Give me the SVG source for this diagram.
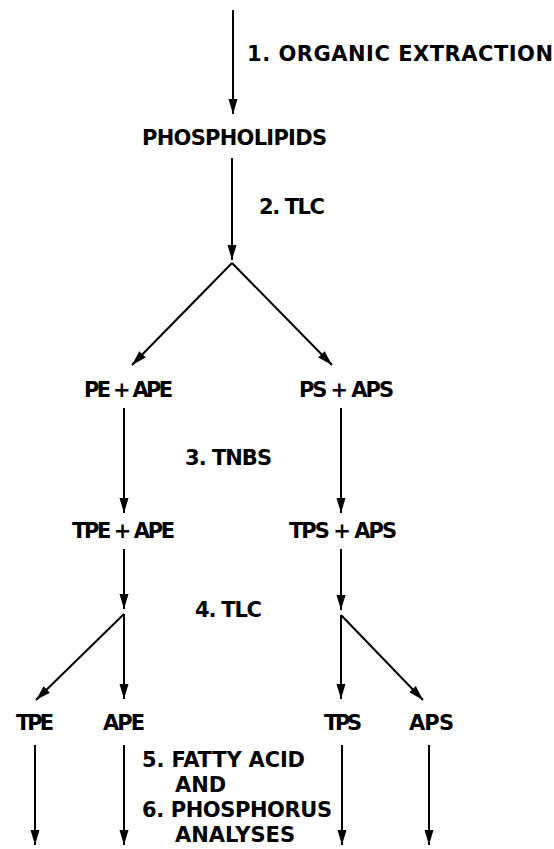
<svg xmlns="http://www.w3.org/2000/svg" width="554" height="849" viewBox="0 0 554 849">
<defs>
<style>
text{font-family:"DejaVu Sans","Liberation Sans",sans-serif;font-weight:bold;font-size:21px;fill:#000}
.c line,.c path{stroke:#000;stroke-width:2;fill:none}
</style>
<marker id="ah" markerUnits="userSpaceOnUse" markerWidth="16" markerHeight="10" refX="15" refY="5" orient="auto">
<path d="M0,0.5 L15,5 L0,9.5 z" fill="#000"/>
</marker>
</defs>
<rect width="554" height="849" fill="#fff"/>
<g id="connectors" class="c">
<line x1="233" y1="10" x2="233" y2="114" marker-end="url(#ah)"/>
<line x1="232" y1="158" x2="232" y2="260" marker-end="url(#ah)"/>
<line x1="232" y1="263" x2="132" y2="365" marker-end="url(#ah)"/>
<line x1="232" y1="263" x2="332" y2="365" marker-end="url(#ah)"/>
<line x1="124" y1="408" x2="124" y2="513" marker-end="url(#ah)"/>
<line x1="341" y1="408" x2="341" y2="513" marker-end="url(#ah)"/>
<line x1="124" y1="549" x2="124" y2="609" marker-end="url(#ah)"/>
<line x1="341" y1="549" x2="341" y2="610" marker-end="url(#ah)"/>
<line x1="124" y1="614" x2="36" y2="700" marker-end="url(#ah)"/>
<line x1="124" y1="614" x2="124" y2="699" marker-end="url(#ah)"/>
<line x1="341" y1="615" x2="341" y2="699" marker-end="url(#ah)"/>
<line x1="341" y1="615" x2="423" y2="700" marker-end="url(#ah)"/>
<line x1="35" y1="745" x2="35" y2="845" marker-end="url(#ah)"/>
<line x1="124" y1="745" x2="124" y2="845" marker-end="url(#ah)"/>
<line x1="342" y1="745" x2="342" y2="845" marker-end="url(#ah)"/>
<line x1="429" y1="745" x2="429" y2="845" marker-end="url(#ah)"/>
<g id="step-labels">
<text x="247" y="61" textLength="306">1. ORGANIC EXTRACTION</text>
<text x="259" y="214" textLength="66">2. TLC</text>
<text x="185" y="465" textLength="87">3. TNBS</text>
<text x="195" y="617" textLength="67">4. TLC</text>
<text x="142" y="767" textLength="163">5. FATTY ACID</text>
<text x="175" y="792">AND</text>
<text x="142" y="817" textLength="190">6. PHOSPHORUS</text>
<text x="175" y="842" textLength="120">ANALYSES</text>
</g>
</g>
<g id="phospholipids"><text x="142" y="145" textLength="185">PHOSPHOLIPIDS</text></g>
<g id="pe-ape"><text x="84" y="397" textLength="89">PE + APE</text></g>
<g id="ps-aps"><text x="299" y="397" textLength="95">PS + APS</text></g>
<g id="tpe-ape"><text x="72" y="538" textLength="103">TPE + APE</text></g>
<g id="tps-aps"><text x="289" y="538" textLength="108">TPS + APS</text></g>
<g id="tpe"><text x="16" y="730" textLength="38">TPE</text></g>
<g id="ape"><text x="103" y="730" textLength="42">APE</text></g>
<g id="tps"><text x="324" y="730" textLength="38">TPS</text></g>
<g id="aps"><text x="409" y="730" textLength="45">APS</text></g>
</svg>
